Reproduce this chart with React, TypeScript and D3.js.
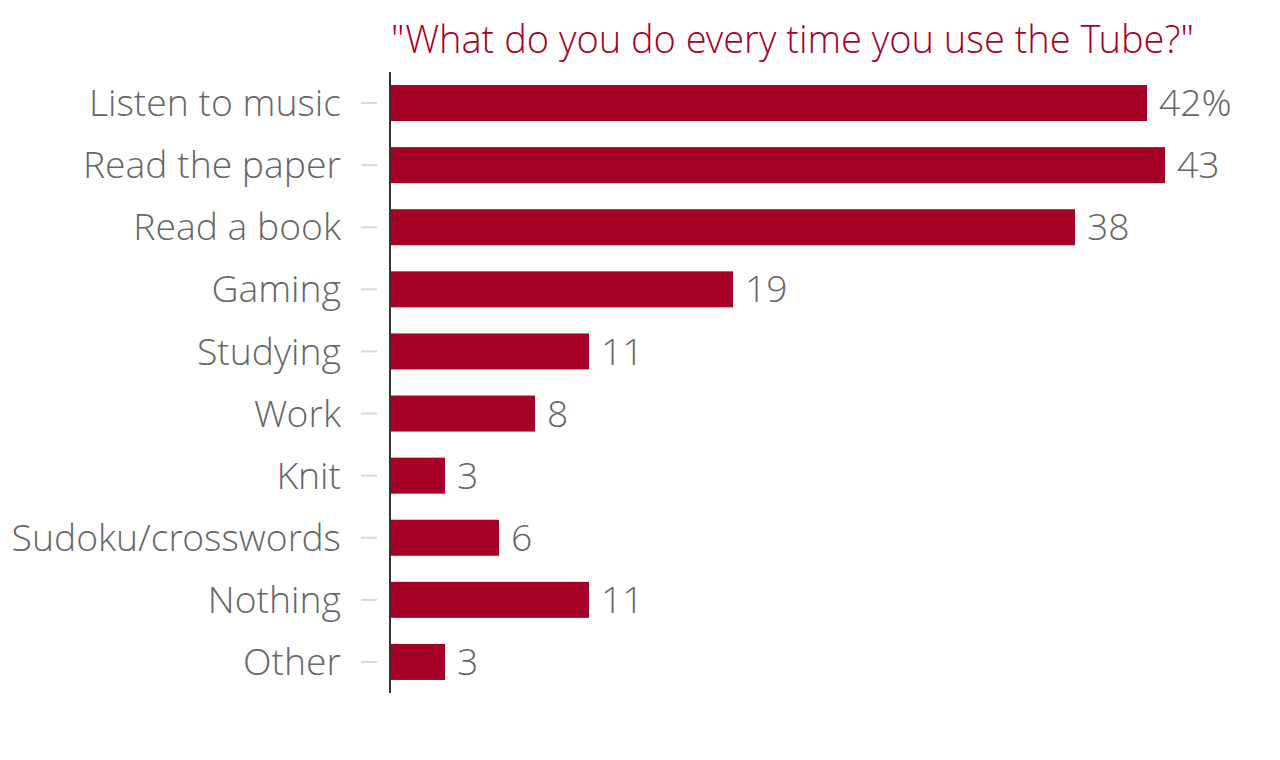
import * as d3 from 'd3'
import React from 'react'

const categories = [
  'Listen to music',
  'Read the paper',
  'Read a book',
  'Gaming',
  'Studying',
  'Work',
  'Knit',
  'Sudoku/crosswords',
  'Nothing',
  'Other',
]
const values = [42, 43, 38, 19, 11, 8, 3, 6, 11, 3]
const valueLabels = ['42%', '43', '38', '19', '11', '8', '3', '6', '11', '3']
const title = '"What do you do every time you use the Tube?"'

const width = 1280
const height = 760
const margin = { top: 72, right: 0, bottom: 67, left: 391 }
const barColor = '#a50026'
const textColor = '#666666'
const font = '"Open Sans Light", "Open Sans", sans-serif'

const App = () => {
  const x = d3.scaleLinear().domain([0, 43]).range([margin.left, margin.left + 43 * 18])
  const y = d3
    .scaleBand<string>()
    .domain(categories)
    .range([margin.top, height - margin.bottom])
    .paddingInner(0.42)
    .paddingOuter(0.21)

  return (
    <svg
      width={width}
      height={height}
      style={{ position: 'absolute', left: 0, top: 0, background: '#fff' }}
      fontFamily={font}
    >
      <text x={391} y={53} fill={barColor} fontSize={38} fontWeight={300}>
        {title}
      </text>

      {categories.map((c, i) => {
        const cy = (y(c) as number) + y.bandwidth() / 2
        return (
          <g key={c}>
            <line x1={361} x2={377} y1={cy} y2={cy} stroke="#d9d9d9" strokeWidth={2} />
            <text
              x={341}
              y={cy}
              dy="0.35em"
              textAnchor="end"
              fill={textColor}
              fontSize={37.3}
              fontWeight={300}
            >
              {c}
            </text>
            <rect
              x={x(0)}
              y={y(c)}
              width={x(values[i]) - x(0)}
              height={y.bandwidth()}
              fill={barColor}
            />
            <text
              x={x(values[i]) + 12}
              y={cy}
              dy="0.35em"
              fill={textColor}
              fontSize={37.3}
              fontWeight={300}
            >
              {valueLabels[i]}
            </text>
          </g>
        )
      })}

      <line x1={390} x2={390} y1={margin.top} y2={height - margin.bottom} stroke="#333" strokeWidth={2} />
    </svg>
  )
}

export default App
